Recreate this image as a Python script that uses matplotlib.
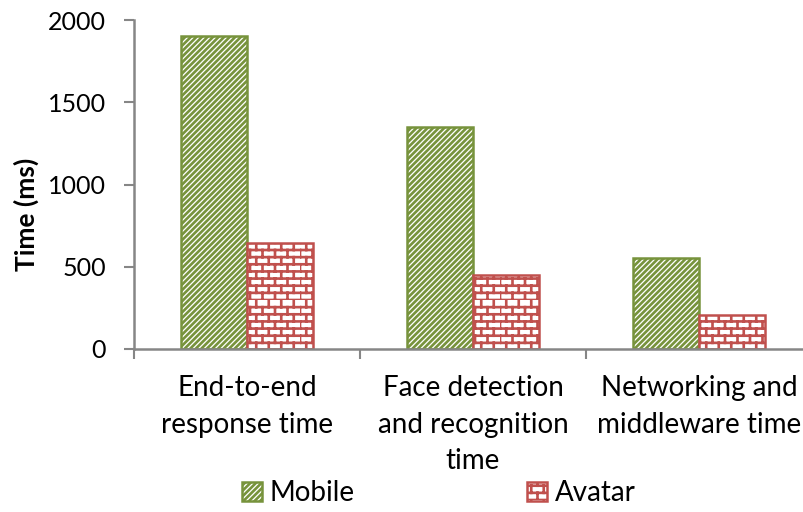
import warnings
import numpy as np
import matplotlib
matplotlib.use("Agg")
import matplotlib.pyplot as plt
import matplotlib.hatch as mhatch
from matplotlib.path import Path

warnings.filterwarnings("ignore", category=matplotlib.MatplotlibDeprecationWarning)

categories = ["End-to-end\nresponse time",
              "Face detection\nand recognition\ntime",
              "Networking and\nmiddleware time"]
mobile = [1900, 1350, 555]
avatar = [645, 450, 205]
series_names = ["Mobile", "Avatar"]


# brick hatch: 'b' in the hatch string, rows of bricks offset by half a brick
class BrickHatch(mhatch.HatchPatternBase):
    def __init__(self, hatch, density):
        n = hatch.count('b')
        self.rows = 14 * n
        self.per_row = 8 * n
        self.num_vertices = self.rows * 2 + self.rows * self.per_row * 2

    def set_vertices_and_codes(self, vertices, codes):
        ys = np.arange(self.rows) / self.rows
        k = 0
        for y in ys:
            vertices[k] = (0.0, y)
            vertices[k + 1] = (1.0, y)
            codes[k] = Path.MOVETO
            codes[k + 1] = Path.LINETO
            k += 2
        h = 1.0 / self.rows
        w = 1.0 / self.per_row
        for i, y in enumerate(ys):
            off = 0.0 if i % 2 == 0 else w / 2
            for j in range(self.per_row):
                x = off + j * w
                vertices[k] = (x, y)
                vertices[k + 1] = (x, y + h)
                codes[k] = Path.MOVETO
                codes[k + 1] = Path.LINETO
                k += 2


mhatch._hatch_types.append(BrickHatch)

plt.rcParams['font.family'] = ['Lato', 'DejaVu Sans']
plt.rcParams['hatch.linewidth'] = 1.9

green = "#77933C"
red = "#C0504D"
axis_grey = "#868686"

fig = plt.figure(figsize=(8.04, 5.12), dpi=100)
ax = fig.add_axes([134 / 804, 163 / 512, 678 / 804, 329 / 512])

x = np.arange(len(categories))
w = 0.29
ax.bar(x - w / 2, mobile, w, color="white", edgecolor=green, hatch="//////",
       linewidth=1.8, label=series_names[0])
ax.bar(x + w / 2, avatar, w, color="white", edgecolor=red, hatch="b",
       linewidth=1.8, label=series_names[1])

ax.set_xlim(-0.5, 2.5)
ax.set_ylim(0, 2000)
ax.set_yticks([0, 500, 1000, 1500, 2000])
ax.tick_params(axis='y', direction='out', length=7, width=1.5, color=axis_grey,
               pad=13, labelsize=18)

# boundaries get tick marks, category names sit on minor ticks
ax.set_xticks([-0.5, 0.5, 1.5, 2.5])
ax.set_xticklabels([])
ax.set_xticks(x, minor=True)
ax.set_xticklabels(categories, minor=True, fontsize=20, linespacing=1.5)
ax.tick_params(axis='x', which='major', direction='out', length=7, width=1.5,
               color=axis_grey)
ax.tick_params(axis='x', which='minor', length=0, pad=19)

for s in ["top", "right"]:
    ax.spines[s].set_visible(False)
for s in ["left", "bottom"]:
    ax.spines[s].set_color(axis_grey)
    ax.spines[s].set_linewidth(1.8)

ax.set_ylabel("Time (ms)", fontsize=19, fontweight="bold")
ax.yaxis.set_label_coords(-0.14, 0.41)

fig.legend(loc="center", bbox_to_anchor=(0.546, 0.037), ncol=2, frameon=False,
           fontsize=20, handlelength=0.7, handleheight=0.7,
           handletextpad=0.3, columnspacing=6.2)

fig.savefig("out.png", dpi=100)
